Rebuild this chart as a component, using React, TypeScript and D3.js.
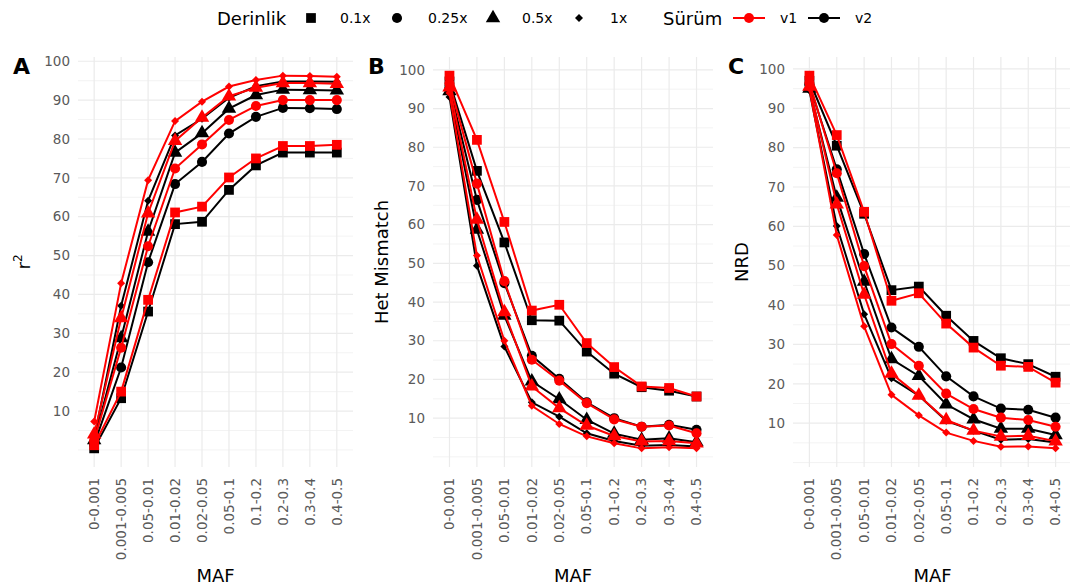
import React, { useEffect, useRef } from "react";
import * as d3 from "d3";

const mafBins = [
  "0-0.001", "0.001-0.005", "0.05-0.01", "0.01-0.02", "0.02-0.05",
  "0.05-0.1", "0.1-0.2", "0.2-0.3", "0.3-0.4", "0.4-0.5",
];
const depths = ["0.1x", "0.25x", "0.5x", "1x"];
const versions = ["v1", "v2"];
const yTicks = [10, 20, 30, 40, 50, 60, 70, 80, 90, 100];

// r2, one row per depth
const r2V1 = [
  [1.2, 15.0, 38.6, 61.1, 62.6, 70.1, 75.0, 78.2, 78.2, 78.5],
  [2.5, 26.3, 52.4, 72.4, 78.6, 84.9, 88.5, 90.0, 90.0, 90.0],
  [4.0, 33.9, 60.9, 79.5, 85.5, 91.0, 93.2, 94.4, 94.4, 94.2],
  [7.3, 42.9, 69.4, 84.6, 89.6, 93.5, 95.2, 96.3, 96.2, 96.0],
];
const r2V2 = [
  [0.4, 13.3, 35.6, 58.1, 58.7, 66.9, 73.2, 76.5, 76.5, 76.5],
  [1.5, 21.2, 48.3, 68.4, 74.1, 81.4, 85.7, 88.0, 87.9, 87.7],
  [2.5, 28.8, 56.2, 76.5, 81.5, 87.8, 91.3, 92.7, 92.6, 92.5],
  [3.0, 37.1, 64.1, 80.9, 85.2, 90.6, 93.6, 94.8, 94.8, 94.7],
];

// Het Mismatch
const hetV1 = [
  [98.5, 81.9, 60.7, 37.8, 39.3, 29.4, 23.2, 18.2, 17.8, 15.6],
  [96.5, 70.6, 45.4, 25.1, 19.7, 13.9, 9.7, 7.8, 8.1, 6.1],
  [95.5, 61.3, 37.4, 18.2, 12.6, 8.1, 5.4, 4.0, 4.1, 3.5],
  [94.0, 52.0, 30.0, 13.2, 8.5, 5.3, 3.5, 2.2, 2.5, 2.2],
];
const hetV2 = [
  [97.0, 73.9, 55.4, 35.3, 35.2, 27.2, 21.5, 18.0, 17.1, 15.6],
  [95.5, 66.4, 44.9, 26.1, 20.2, 14.1, 10.0, 7.8, 8.3, 7.0],
  [94.5, 58.7, 36.5, 19.5, 14.9, 9.6, 6.0, 4.4, 4.8, 3.8],
  [93.0, 49.4, 28.5, 14.1, 10.4, 6.1, 4.1, 2.9, 3.1, 2.7],
];

// NRD
const nrdV1 = [
  [98.3, 83.2, 63.7, 41.1, 43.0, 35.3, 29.2, 24.6, 24.3, 20.3],
  [96.5, 73.5, 49.9, 30.1, 24.6, 17.5, 13.6, 11.4, 10.8, 9.1],
  [95.5, 65.6, 42.7, 22.6, 17.0, 10.8, 8.1, 6.6, 6.8, 5.4],
  [95.0, 57.8, 34.6, 17.2, 12.0, 7.6, 5.5, 4.0, 4.1, 3.6],
];
const nrdV2 = [
  [97.0, 80.5, 63.2, 43.8, 44.7, 37.3, 30.9, 26.5, 25.0, 21.8],
  [96.0, 74.5, 53.0, 34.3, 29.4, 21.9, 16.8, 13.7, 13.4, 11.4],
  [95.0, 67.3, 46.0, 26.3, 22.0, 14.8, 11.0, 8.6, 8.6, 7.0],
  [94.5, 60.1, 37.7, 21.4, 17.0, 10.6, 8.1, 5.8, 6.0, 5.1],
];

const versionColor = { v1: "#ff0000", v2: "#000000" };

// ggplot's shape 18: a square turned 45 degrees
const squareDiamond = {
  draw(ctx: any, size: number) {
    const r = Math.sqrt(size / 2);
    ctx.moveTo(0, -r);
    ctx.lineTo(r, 0);
    ctx.lineTo(0, r);
    ctx.lineTo(-r, 0);
    ctx.closePath();
  },
};
const shapeFor = [d3.symbolSquare, d3.symbolCircle, d3.symbolTriangle, squareDiamond];
const sizeFor = [95, 80, 90, 32];

function App() {
  const ref = useRef<SVGSVGElement>(null);

  useEffect(() => {
    const svg = d3.select(ref.current);
    svg.selectAll("*").remove();
    const font = "DejaVu Sans, sans-serif";
    const top = 57;
    const bottom = 467;

    const panels = [
      { label: "A", title: "r", sup: "2", v1: r2V1, v2: r2V2, left: 78, right: 353, titleX: 30 },
      { label: "B", title: "Het Mismatch", sup: "", v1: hetV1, v2: hetV2, left: 433, right: 713, titleX: 388 },
      { label: "C", title: "NRD", sup: "", v1: nrdV1, v2: nrdV2, left: 793, right: 1072, titleX: 748 },
    ];

    panels.forEach((p) => {
      const all = [...p.v1.flat(), ...p.v2.flat()];
      const [lo, hi] = d3.extent(all) as [number, number];
      const pad = (hi - lo) * 0.05;
      const y = d3.scaleLinear().domain([lo - pad, hi + pad]).range([bottom, top]);
      const x = d3.scalePoint().domain(mafBins).range([p.left, p.right]).padding(0.6);
      const g = svg.append("g");

      // minor grid
      const minor = d3.range(0, 110, 5).filter((v) => v % 10 !== 0 || v === 0 || v > 100);
      g.selectAll(".minor")
        .data(minor.filter((v) => v >= lo - pad && v <= hi + pad))
        .enter()
        .append("line")
        .attr("x1", p.left).attr("x2", p.right)
        .attr("y1", (d) => y(d)).attr("y2", (d) => y(d))
        .attr("stroke", "#ebebeb").attr("stroke-width", 0.6);
      g.selectAll(".major")
        .data(yTicks)
        .enter()
        .append("line")
        .attr("x1", p.left).attr("x2", p.right)
        .attr("y1", (d) => y(d)).attr("y2", (d) => y(d))
        .attr("stroke", "#ebebeb").attr("stroke-width", 1.2);
      g.selectAll(".vgrid")
        .data(mafBins)
        .enter()
        .append("line")
        .attr("x1", (d) => x(d)!).attr("x2", (d) => x(d)!)
        .attr("y1", top).attr("y2", bottom)
        .attr("stroke", "#ebebeb").attr("stroke-width", 1.2);

      // y tick labels
      g.selectAll(".ytl")
        .data(yTicks)
        .enter()
        .append("text")
        .attr("x", p.left - 8)
        .attr("y", (d) => y(d))
        .attr("dy", "0.35em")
        .attr("text-anchor", "end")
        .attr("font-family", font).attr("font-size", 13.5)
        .attr("fill", "#5a5a5a")
        .text((d) => d);

      // x tick labels
      g.selectAll(".xtl")
        .data(mafBins)
        .enter()
        .append("text")
        .attr("transform", (d) => `translate(${x(d)},478) rotate(-90)`)
        .attr("dy", "0.35em")
        .attr("text-anchor", "end")
        .attr("font-family", font).attr("font-size", 13.5)
        .attr("fill", "#5a5a5a")
        .text((d) => d);

      // axis titles
      g.append("text")
        .attr("x", (p.left + p.right) / 2)
        .attr("y", 582)
        .attr("text-anchor", "middle")
        .attr("font-family", font).attr("font-size", 18)
        .attr("fill", "#000")
        .text("MAF");
      const yt = g.append("text")
        .attr("transform", `translate(${p.titleX},${(top + bottom) / 2}) rotate(-90)`)
        .attr("text-anchor", "middle")
        .attr("font-family", font).attr("font-size", 18)
        .attr("fill", "#000");
      yt.append("tspan").text(p.title);
      if (p.sup) yt.append("tspan").attr("font-size", 12).attr("dy", -8).text(p.sup);

      g.append("text")
        .attr("x", p.left - 65)
        .attr("y", 74)
        .attr("font-family", font).attr("font-size", 22).attr("font-weight", "bold")
        .text(p.label);

      // series: v2 first, v1 on top
      ["v2", "v1"].forEach((v) => {
        const rows = v === "v1" ? p.v1 : p.v2;
        const col = versionColor[v as "v1" | "v2"];
        rows.forEach((vals, di) => {
          const pts = vals.map((val, i) => [x(mafBins[i])!, y(val)] as [number, number]);
          g.append("path")
            .attr("d", d3.line()(pts))
            .attr("fill", "none")
            .attr("stroke", col)
            .attr("stroke-width", 2);
          g.selectAll(null)
            .data(pts)
            .enter()
            .append("path")
            .attr("transform", (d) => `translate(${d[0]},${d[1]})`)
            .attr("d", d3.symbol().type(shapeFor[di] as any).size(sizeFor[di])())
            .attr("fill", col);
        });
      });
    });

    // legend
    const lg = svg.append("g");
    lg.append("text").attr("x", 217).attr("y", 25)
      .attr("font-family", font).attr("font-size", 18).text("Derinlik");
    const depthSymX = [311, 397, 493, 579];
    const depthTxtX = [340, 428, 522, 610];
    depths.forEach((d, i) => {
      lg.append("path")
        .attr("transform", `translate(${depthSymX[i]},18)`)
        .attr("d", d3.symbol().type(shapeFor[i] as any).size(sizeFor[i])())
        .attr("fill", "#000");
      lg.append("text").attr("x", depthTxtX[i]).attr("y", 23)
        .attr("font-family", font).attr("font-size", 14).text(d);
    });
    lg.append("text").attr("x", 663).attr("y", 25)
      .attr("font-family", font).attr("font-size", 18).text("Sürüm");
    const verX = [733, 808];
    const verTxtX = [780, 855];
    versions.forEach((v, i) => {
      const col = versionColor[v as "v1" | "v2"];
      lg.append("line")
        .attr("x1", verX[i]).attr("x2", verX[i] + 32)
        .attr("y1", 18).attr("y2", 18)
        .attr("stroke", col).attr("stroke-width", 2);
      lg.append("circle").attr("cx", verX[i] + 16).attr("cy", 18).attr("r", 5).attr("fill", col);
      lg.append("text").attr("x", verTxtX[i]).attr("y", 23)
        .attr("font-family", font).attr("font-size", 14).text(v);
    });
  }, []);

  return (
    <svg
      ref={ref}
      width={1070}
      height={587}
      style={{ position: "absolute", left: 0, top: 0, background: "#fff" }}
    />
  );
}

export default App;
